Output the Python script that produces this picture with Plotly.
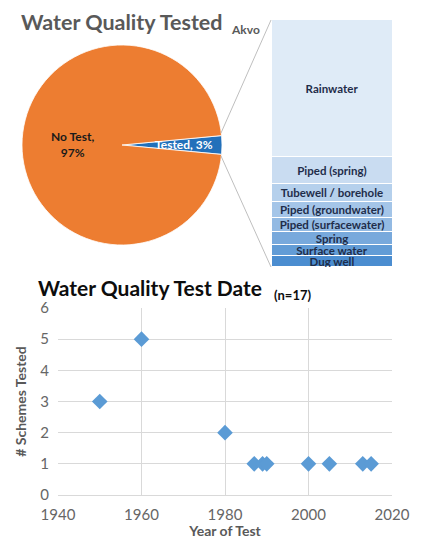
import plotly.graph_objects as go

W, H = 425, 539
FONT = "Lato"

# Pie: share of schemes with a water quality test
pie_labels = ["Tested", "No Test"]
pie_values = [3, 97]
pie_colors = ["#2270BA", "#ED7D31"]

# Breakdown of tested schemes by source type (share of stack, top to bottom)
src_labels = ["Rainwater", "Piped (spring)", "Tubewell / borehole",
              "Piped (groundwater)", "Piped (surfacewater)", "Spring",
              "Surface water", "Dug well"]
src_values = [55.5, 11, 7, 6.5, 6, 5, 4.5, 4.5]
src_colors = ["#DFEBF7", "#C9DCF1", "#B5D0EC", "#A4C5E8", "#93BAE3",
              "#78A9DC", "#629CD6", "#4B8DD0"]

# Test dates
test_year = [1950, 1960, 1980, 1987, 1989, 1990, 2000, 2005, 2013, 2015]
n_schemes = [3, 5, 2, 1, 1, 1, 1, 1, 1, 1]


def px(x0, x1):
    return [x0 / W, x1 / W]


def py(top, bottom):
    return [1 - bottom / H, 1 - top / H]


fig = go.Figure()

# ── Pie ──────────────────────────────────────────────────────────────
fig.add_trace(go.Pie(
    labels=pie_labels, values=pie_values, sort=False,
    direction="clockwise", rotation=90 - 5.4,
    marker=dict(colors=pie_colors, line=dict(color="white", width=0.8)),
    textinfo="none", hoverinfo="label+percent", showlegend=False,
    domain=dict(x=px(22, 222), y=py(45, 245)),
))

# ── Stacked source bar (bottom of stack first) ───────────────────────
for lab, val, col in reversed(list(zip(src_labels, src_values, src_colors))):
    fig.add_trace(go.Bar(
        x=[0], y=[val], name=lab, text=[lab],
        marker=dict(color=col, line=dict(color="white", width=1)),
        textposition="inside", insidetextanchor="middle", textangle=0,
        constraintext="none",
        textfont=dict(family=FONT, size=11.5, color="#1F2D4A", weight="bold"),
        width=1, xaxis="x2", yaxis="y2", showlegend=False,
    ))

# ── Scatter of test dates ────────────────────────────────────────────
fig.add_trace(go.Scatter(
    x=test_year, y=n_schemes, mode="markers",
    marker=dict(symbol="diamond", size=12, color="#5B9BD5"),
    showlegend=False,
))

axis_font = dict(family=FONT, size=15, color="#666666")
fig.update_layout(
    width=W, height=H,
    margin=dict(l=0, r=0, t=0, b=0, autoexpand=False),
    paper_bgcolor="white", plot_bgcolor="white",
    barmode="stack", bargap=0,
    font=dict(family=FONT),
    xaxis=dict(domain=px(58, 392), range=[1940, 2020], dtick=20,
               showgrid=True, gridcolor="#D9D9D9", zeroline=False,
               showline=True, linecolor="#D9D9D9", ticks="",
               tickfont=axis_font, automargin=False, ticklabelstandoff=6,
               title=dict(text="<b>Year of Test</b>", standoff=8,
                          font=dict(family=FONT, size=14, color="#595959"))),
    yaxis=dict(domain=py(308, 495), range=[0, 6], dtick=1,
               showgrid=True, gridcolor="#D9D9D9", zeroline=False,
               ticks="", tickfont=axis_font, automargin=False,
               ticklabelstandoff=8,
               title=dict(text="<b># Schemes Tested</b>", standoff=10,
                          font=dict(family=FONT, size=14, color="#595959"))),
    xaxis2=dict(domain=px(272, 393), range=[-0.5, 0.5], visible=False,
                anchor="y2", automargin=False),
    yaxis2=dict(domain=py(20, 267), range=[0, 100], visible=False,
                anchor="x2", automargin=False),
    shapes=[
        dict(type="line", xref="paper", yref="paper",
             x0=221 / W, y0=1 - 133 / H, x1=271 / W, y1=1 - 20 / H,
             line=dict(color="#BFBFBF", width=1)),
        dict(type="line", xref="paper", yref="paper",
             x0=221 / W, y0=1 - 156 / H, x1=271 / W, y1=1 - 267 / H,
             line=dict(color="#BFBFBF", width=1)),
    ],
    annotations=[
        dict(text="<b>Water Quality Tested</b>", x=19 / W, y=1 - 22 / H,
             xref="paper", yref="paper", xanchor="left", yanchor="middle",
             showarrow=False, font=dict(family=FONT, size=21.5, color="#595959")),
        dict(text="<b>Akvo</b>", x=229 / W, y=1 - 30 / H,
             xref="paper", yref="paper", xanchor="left", yanchor="middle",
             showarrow=False, font=dict(family=FONT, size=12, color="#595959")),
        dict(text="<b>No Test,<br>97%</b>", x=72 / W, y=1 - 144 / H,
             xref="paper", yref="paper", xanchor="center", yanchor="middle",
             showarrow=False, font=dict(family=FONT, size=12, color="#1A1A1A")),
        dict(text="<b>Tested, 3%</b>", x=184 / W, y=1 - 144 / H,
             xref="paper", yref="paper", xanchor="center", yanchor="middle",
             showarrow=False, font=dict(family=FONT, size=12, color="white")),
        dict(text="<b>Water Quality Test Date</b>", x=36 / W, y=1 - 287 / H,
             xref="paper", yref="paper", xanchor="left", yanchor="middle",
             showarrow=False, font=dict(family=FONT, size=21, color="#0D0D0D")),
        dict(text="<b>(n=17)</b>", x=272 / W, y=1 - 295 / H,
             xref="paper", yref="paper", xanchor="left", yanchor="middle",
             showarrow=False, font=dict(family=FONT, size=13, color="#0D0D0D")),
    ],
)

fig.write_html("out.html", config={"displayModeBar": False},
               post_script="document.body.style.margin='0';")
